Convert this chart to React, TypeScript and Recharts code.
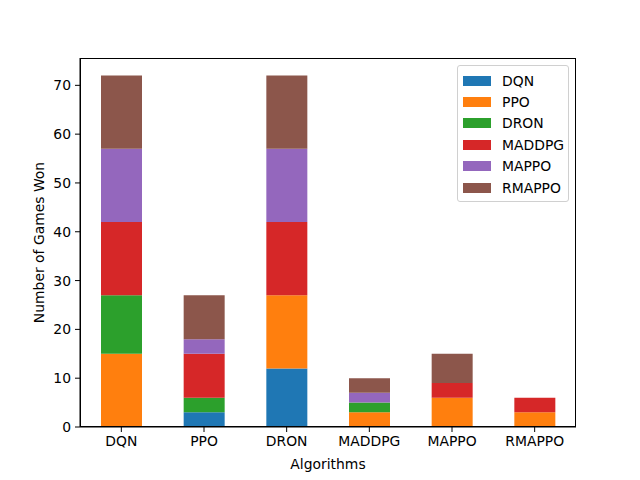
import React from "react";
import { BarChart, Bar, XAxis, YAxis } from "recharts";

const algorithms = ["DQN", "PPO", "DRON", "MADDPG", "MAPPO", "RMAPPO"];

// games won against each opponent (stack segments)
const dqn = [0, 3, 12, 0, 0, 0];
const ppo = [15, 0, 15, 3, 6, 3];
const dron = [12, 3, 0, 2, 0, 0];
const maddpg = [15, 9, 15, 0, 3, 3];
const mappo = [15, 3, 15, 2, 0, 0];
const rmappo = [15, 9, 15, 3, 6, 0];

const yTicks = [0, 10, 20, 30, 40, 50, 60, 70];

const series = [
  { key: "DQN", values: dqn, color: "#1f77b4" },
  { key: "PPO", values: ppo, color: "#ff7f0e" },
  { key: "DRON", values: dron, color: "#2ca02c" },
  { key: "MADDPG", values: maddpg, color: "#d62728" },
  { key: "MAPPO", values: mappo, color: "#9467bd" },
  { key: "RMAPPO", values: rmappo, color: "#8c564b" },
];

const data = algorithms.map((name, i) => {
  const row: Record<string, number | string> = { name };
  series.forEach((s) => {
    row[s.key] = s.values[i];
  });
  return row;
});

const font = "'DejaVu Sans', sans-serif";
const tickStyle = { fontSize: 13.9, fill: "#000", fontFamily: font };

const LegendBox = () => (
  <div
    style={{
      position: "absolute",
      left: 457,
      top: 65,
      width: 112,
      border: "1px solid #d0d0d0",
      borderRadius: 3,
      background: "rgba(255,255,255,0.8)",
      padding: "4px 0 3px 5px",
      boxSizing: "border-box",
      fontFamily: font,
      fontSize: 13.9,
    }}
  >
    {series.map((s) => (
      <div key={s.key} style={{ display: "flex", alignItems: "center", height: 21.4 }}>
        <span style={{ width: 28, height: 10, background: s.color, display: "inline-block" }} />
        <span style={{ marginLeft: 11 }}>{s.key}</span>
      </div>
    ))}
  </div>
);

export default function App() {
  return (
    <div style={{ position: "absolute", left: 0, top: 0, width: 640, height: 480, background: "#fff" }}>
      <BarChart
        width={640}
        height={480}
        data={data}
        margin={{ top: 58, right: 64, bottom: 0, left: 0 }}
      >
        <XAxis
          dataKey="name"
          tick={tickStyle}
          tickSize={5}
          tickMargin={4}
          axisLine={{ stroke: "#000" }}
          tickLine={{ stroke: "#000" }}
          height={53}
          interval={0}
          label={{ value: "Algorithms", position: "insideBottom", offset: 11, style: { fontSize: 13.9, fill: "#000", fontFamily: font } }}
        />
        <YAxis
          domain={[0, 75.6]}
          ticks={yTicks}
          tick={tickStyle}
          tickSize={5}
          tickMargin={4}
          width={80}
          allowDataOverflow
          axisLine={{ stroke: "#000" }}
          tickLine={{ stroke: "#000" }}
          label={{ value: "Number of Games Won", angle: -90, position: "insideLeft", offset: 39, style: { textAnchor: "middle", fontSize: 13.9, fill: "#000", fontFamily: font } }}
        />
        {series.map((s) => (
          <Bar
            key={s.key}
            dataKey={s.key}
            stackId="a"
            fill={s.color}
            barSize={41}
            isAnimationActive={false}
          />
        ))}
      </BarChart>
      {/* axes frame (top and right spines) */}
      <div
        style={{
          position: "absolute",
          left: 80,
          top: 58,
          width: 496,
          height: 369,
          border: "1px solid #000",
          boxSizing: "border-box",
          pointerEvents: "none",
        }}
      />
      <LegendBox />
    </div>
  );
}
